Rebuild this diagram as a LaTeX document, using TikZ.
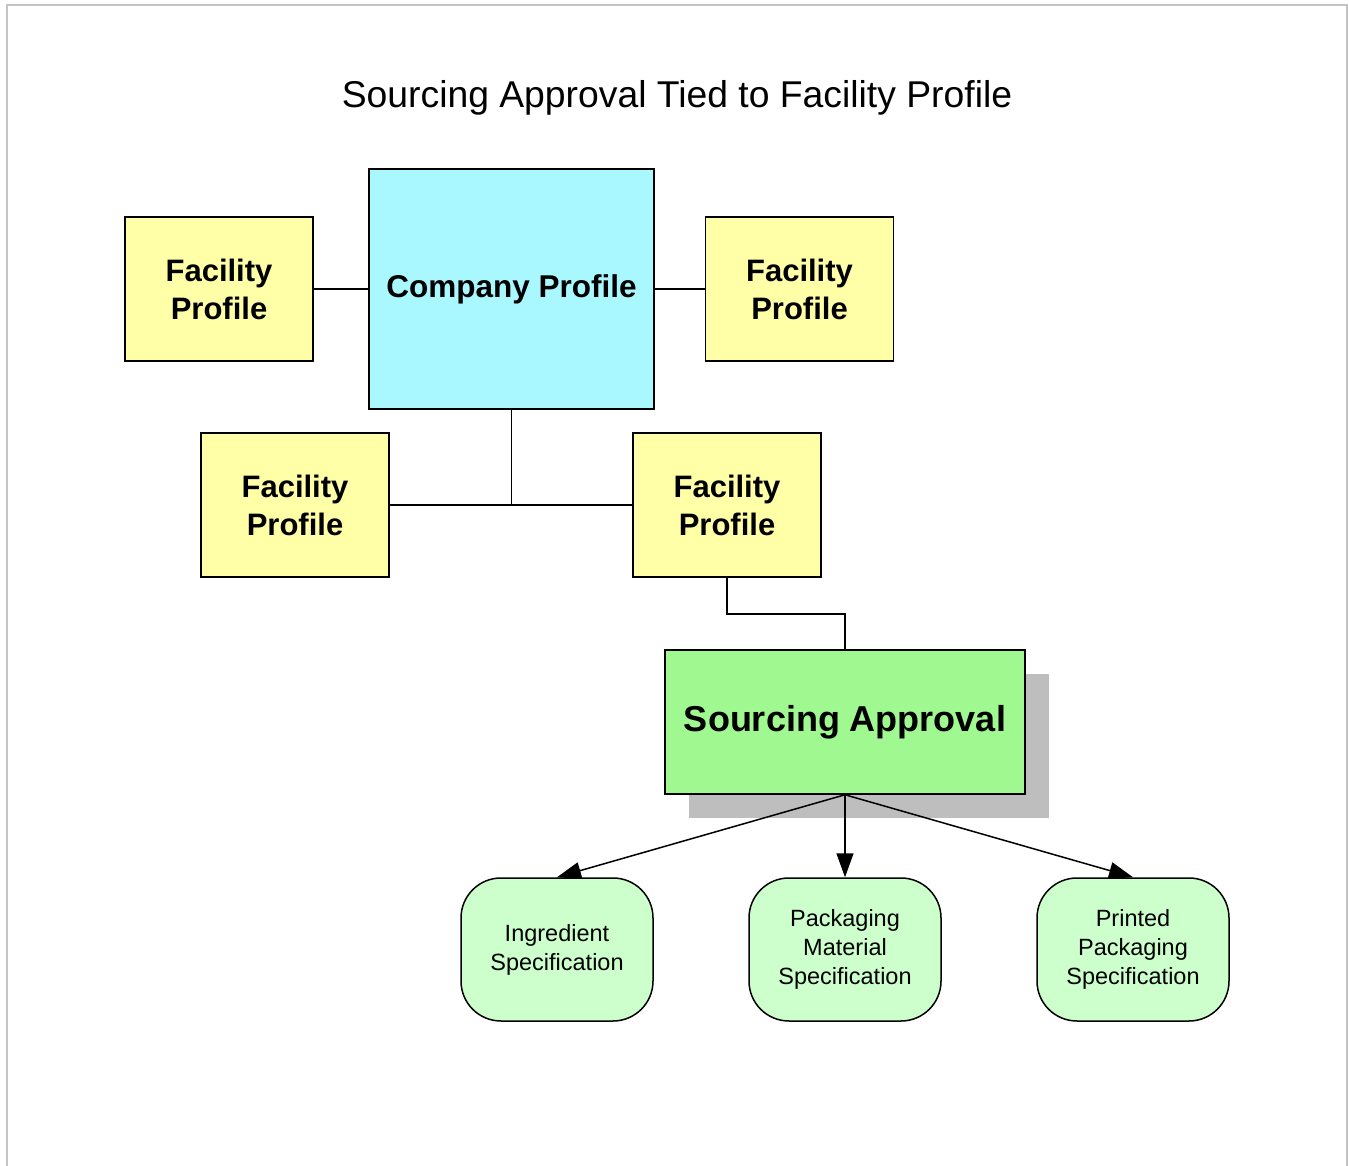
\documentclass[tikz,border=0pt]{standalone}
\usepackage{fontspec}
\setmainfont{Liberation Sans}
\usepackage{tikz}
\usetikzlibrary{arrows.meta,calc,shadows}
\definecolor{companyblue}{HTML}{AAF8FF}
\definecolor{facilityyellow}{HTML}{FFFFA8}
\definecolor{sourcinggreen}{HTML}{A0F890}
\definecolor{specgreen}{HTML}{CCFFCC}
\definecolor{shadowgray}{HTML}{BEBEBE}
\definecolor{framegray}{HTML}{C4C4C4}

\begin{document}
\begin{tikzpicture}[x=1pt,y=-1pt,line width=1.5pt,
  facility/.style={draw,fill=facilityyellow,minimum width=188pt,minimum height=144pt,
    inner sep=0pt,align=center,font=\fontsize{31}{38}\selectfont\bfseries},
  company/.style={draw,fill=companyblue,minimum width=285pt,minimum height=240pt,
    inner sep=0pt,font=\fontsize{31.5}{38}\selectfont\bfseries},
  approval/.style={draw,fill=sourcinggreen,minimum width=360pt,minimum height=144pt,
    inner sep=0pt,font=\fontsize{36}{43}\selectfont\bfseries,
    drop shadow={shadow xshift=24pt,shadow yshift=-24pt,fill=shadowgray,opacity=1}},
  spec/.style={draw,fill=specgreen,rounded corners=40pt,minimum width=192pt,minimum height=143pt,
    inner sep=0pt,align=center,font=\fontsize{23.5}{29}\selectfont},
  link/.style={-{Triangle[length=24pt,width=17pt]}}]
\useasboundingbox (0,0) rectangle (1349,1166);
\draw[framegray,line width=2pt] (7,5) rectangle (1347,1185);

% title
\node (title) at (677,98) {\fontsize{37.3}{44}\selectfont Sourcing Approval Tied to Facility Profile};

% company and its facilities
\node[company] (company) at (511.5,289) {Company Profile};
\node[facility] (facA) at (219,289) {Facility\\Profile};
\node[facility] (facB) at (799.5,289) {Facility\\Profile};
\node[facility] (facC) at (295,505) {Facility\\Profile};
\node[facility] (facD) at (727,505) {Facility\\Profile};

\draw (facA) -- (company);
\draw (company) -- (facB);
\draw (company.south) -- (company.south |- facC.east);
\draw (facC.east) -- (facD.west);

% sourcing approval
\node[approval] (approval) at (845,722) {Sourcing Approval};
\draw (facD.south) -- ++(0,36) -| (approval.north);

% specifications
\node[spec] (ingredient) at (557,949.5) {Ingredient\\Specification};
\node[spec] (material) at (845,949.5) {Packaging\\Material\\Specification};
\node[spec] (printed) at (1133,949.5) {Printed\\Packaging\\Specification};

\draw[link] (approval.south) -- (ingredient.north);
\draw[link] (approval.south) -- (material.north);
\draw[link] (approval.south) -- (printed.north);
\end{tikzpicture}
\end{document}
